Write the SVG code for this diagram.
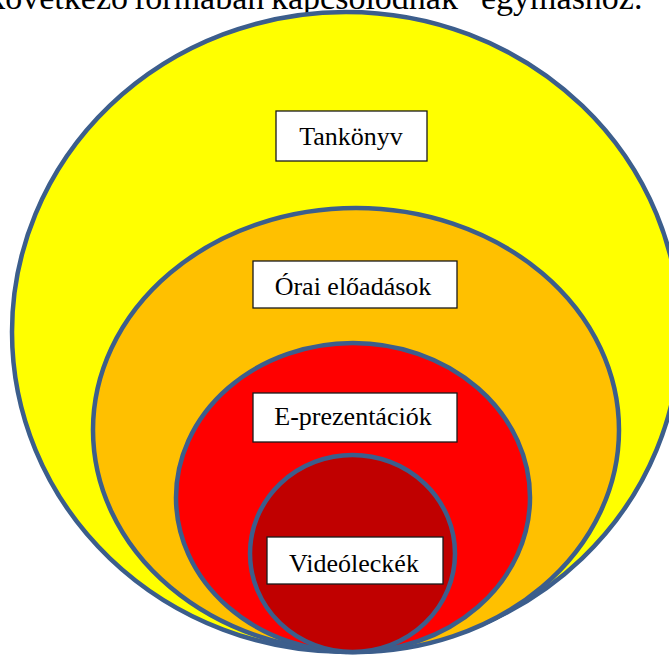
<svg xmlns="http://www.w3.org/2000/svg" width="669" height="655" viewBox="0 0 669 655">
<style>
.ring{stroke:#3c5e8c;stroke-width:4.5}
.box{fill:#ffffff;stroke:#1a1a1a;stroke-width:1.3}
.lbl{font-size:26px;fill:#000;text-anchor:middle}
.cap{font-size:34px;fill:#000}
</style>
<rect width="669" height="655" fill="#ffffff"/>
<text class="cap" y="9" font-family="Liberation Serif, Times New Roman, DejaVu Serif, serif"><tspan x="128" text-anchor="end">következő</tspan><tspan x="134">formában</tspan><tspan x="271">kapcsolódnak</tspan><tspan x="481">egymáshoz.</tspan></text>
<g id="tankonyv">
<ellipse class="ring" cx="346" cy="332" rx="334" ry="320" fill="#ffff00"/>
<rect class="box" x="276" y="111" width="151" height="50"/>
<text class="lbl" x="351" y="145" font-family="Liberation Serif, Times New Roman, DejaVu Serif, serif">Tankönyv</text>
</g>
<g id="orai-eloadasok">
<ellipse class="ring" cx="356" cy="430" rx="263" ry="222" fill="#ffc000"/>
<rect class="box" x="253" y="261" width="204" height="47"/>
<text class="lbl" x="353" y="295" font-family="Liberation Serif, Times New Roman, DejaVu Serif, serif">Órai előadások</text>
</g>
<g id="e-prezentaciok">
<ellipse class="ring" cx="353" cy="497.5" rx="177" ry="154.5" fill="#ff0000"/>
<rect class="box" x="253" y="393" width="204" height="49"/>
<text class="lbl" x="353" y="425" font-family="Liberation Serif, Times New Roman, DejaVu Serif, serif">E-prezentációk</text>
</g>
<g id="videoleckek">
<ellipse class="ring" cx="352.5" cy="553.5" rx="102.5" ry="98.5" fill="#c00000"/>
<rect class="box" x="267" y="537" width="176" height="47"/>
<text class="lbl" x="354" y="572" font-family="Liberation Serif, Times New Roman, DejaVu Serif, serif">Videóleckék</text>
</g>
<g id="connectors"/>
</svg>
